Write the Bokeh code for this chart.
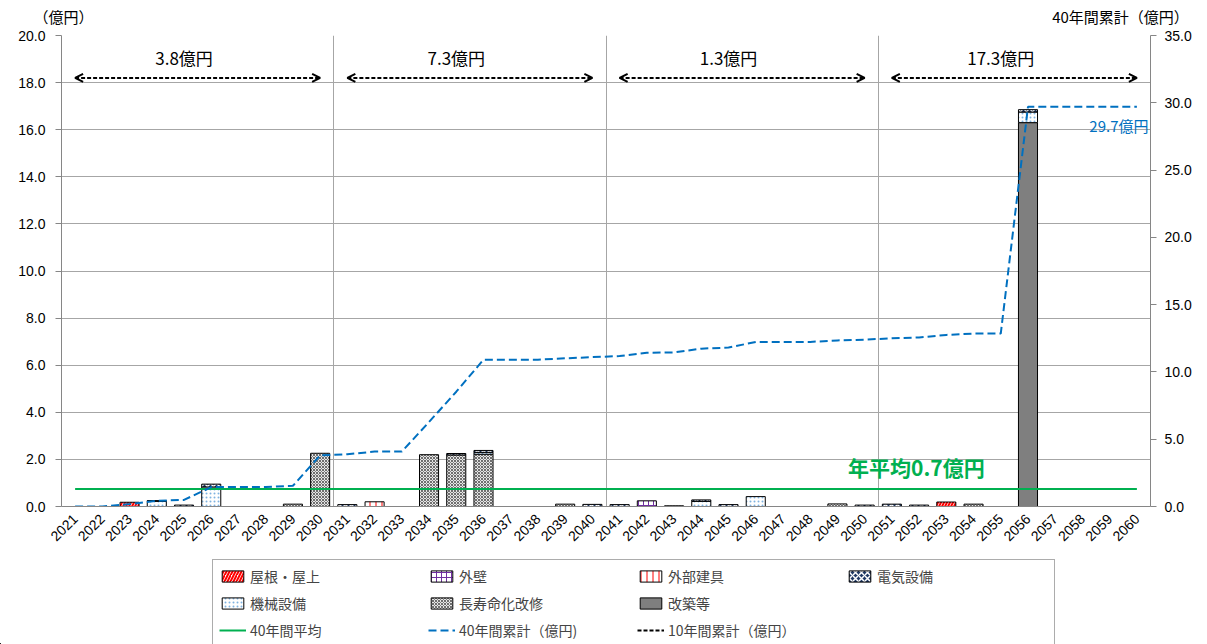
import numpy as np
from bokeh.plotting import figure
from bokeh.layouts import column
from bokeh.models import (Range1d, LinearAxis, FixedTicker, NumeralTickFormatter,
                          Arrow, OpenHead, Label, Legend, LegendItem, ColumnDataSource)
from bokeh.embed import file_html
from bokeh.resources import INLINE

# ---- data (億円 per year) ----
years = list(range(2021, 2061))

roof = [0, 0, 0.18, 0, 0, 0, 0, 0, 0, 0,
        0, 0, 0, 0, 0, 0, 0, 0, 0, 0,
        0, 0, 0, 0, 0, 0, 0, 0, 0, 0,
        0, 0, 0.19, 0, 0, 0, 0, 0, 0, 0]
wall = [0, 0, 0, 0, 0, 0, 0, 0, 0, 0,
        0, 0, 0, 0, 0, 0, 0, 0, 0, 0,
        0, 0.24, 0, 0, 0, 0, 0, 0, 0, 0,
        0, 0, 0, 0, 0, 0, 0, 0, 0, 0]
fixtures = [0, 0, 0, 0, 0, 0, 0, 0, 0, 0,
            0, 0.20, 0, 0, 0, 0, 0, 0, 0, 0,
            0, 0, 0, 0, 0, 0, 0, 0, 0, 0,
            0, 0, 0, 0, 0, 0, 0, 0, 0, 0]
electric = [0, 0, 0, 0.03, 0.06, 0.12, 0, 0, 0, 0,
            0.08, 0, 0, 0, 0.06, 0.08, 0, 0, 0, 0.09,
            0.08, 0, 0, 0.06, 0.08, 0, 0, 0, 0, 0.06,
            0.10, 0.06, 0, 0, 0, 0.10, 0, 0, 0, 0]
machine = [0, 0, 0, 0.22, 0, 0.83, 0, 0, 0, 0,
           0, 0, 0, 0, 0, 0.08, 0, 0, 0, 0,
           0, 0, 0, 0.22, 0, 0.42, 0, 0, 0, 0,
           0, 0, 0, 0, 0, 0.45, 0, 0, 0, 0]
longlife = [0, 0, 0, 0, 0, 0, 0, 0, 0.10, 2.26,
            0, 0, 0, 2.20, 2.19, 2.22, 0, 0, 0.10, 0,
            0, 0, 0.03, 0, 0, 0, 0, 0, 0.11, 0,
            0, 0, 0, 0.10, 0, 0, 0, 0, 0, 0]
rebuild = [0, 0, 0, 0, 0, 0, 0, 0, 0, 0,
           0, 0, 0, 0, 0, 0, 0, 0, 0, 0,
           0, 0, 0, 0, 0, 0, 0, 0, 0, 0,
           0, 0, 0, 0, 0, 16.30, 0, 0, 0, 0]

JP = "Noto Sans CJK JP"
NUM = "Liberation Sans"
W = 1207
HEAD_H = 27
LEG_H = 86
MAIN_H = 644 - HEAD_H - LEG_H
FRAME_TOP = 35      # page y of the plot frame's top edge
FRAME_H = 471

x = np.arange(1, len(years) + 1)
total = np.sum([roof, wall, fixtures, electric, machine, longlife, rebuild], axis=0)
cumulative = np.cumsum(total)
average = total.sum() / len(years)

# drawing styles
BAR_STYLE = {
    "改築等": dict(fill_color="#7F7F7F"),
    "長寿命化改修": dict(fill_color="#E6E6E6", hatch_pattern="x", hatch_color="#6E6E6E",
                      hatch_scale=3, hatch_weight=1),
    "機械設備": dict(fill_color="white", hatch_pattern=".", hatch_color="#7FB2E0",
                   hatch_scale=4, hatch_weight=1),
    "電気設備": dict(fill_color="#1F3864", hatch_pattern="x", hatch_color="white",
                   hatch_scale=6, hatch_weight=1.5),
    "外部建具": dict(fill_color="white", hatch_pattern="|", hatch_color="#FF0000",
                   hatch_scale=6, hatch_weight=1),
    "外壁": dict(fill_color="white", hatch_pattern="+", hatch_color="#7030A0",
               hatch_scale=5, hatch_weight=1),
    "屋根・屋上": dict(fill_color="white", hatch_pattern="/", hatch_color="#FF0000",
                    hatch_scale=6, hatch_weight=2),
}
AVG_STYLE = dict(line_color="#00B050", line_width=2)
CUM_STYLE = dict(line_color="#0070C0", line_width=2, line_dash="8 4")
DEC_STYLE = dict(line_color="black", line_width=2, line_dash="4 2")


def bare_figure(h):
    f = figure(width=W, height=h, output_backend="svg", toolbar_location=None,
               x_range=Range1d(0, W), y_range=Range1d(0, h),
               x_axis_type=None, y_axis_type=None, min_border=0)
    f.outline_line_color = None
    f.grid.visible = False
    f.frame_align = False
    return f


# ---- header strip with the two axis unit captions ----
head = bare_figure(HEAD_H)
head.add_layout(Label(x=63, y=HEAD_H - 16, text="（億円）", text_align="center",
                      text_baseline="middle", text_font=JP, text_font_size="15px",
                      text_color="black"))
head.add_layout(Label(x=1120, y=HEAD_H - 15.5, text="40年間累計（億円）", text_align="center",
                      text_baseline="middle", text_font=JP, text_font_size="15px",
                      text_color="black"))

# ---- main chart ----
top_border = FRAME_TOP - HEAD_H
p = figure(width=W, height=MAIN_H, output_backend="svg", toolbar_location=None,
           x_range=Range1d(0.5, len(years) + 0.5), y_range=Range1d(0, 20),
           min_border_left=61, min_border_right=57, min_border_top=top_border,
           min_border_bottom=MAIN_H - top_border - FRAME_H)
p.extra_y_ranges = {"cum": Range1d(0, 35)}
p.outline_line_color = None
p.frame_align = False

GRID = "#A6A6A6"
AXIS = "#868686"

# left axis
p.yaxis.ticker = FixedTicker(ticks=list(range(0, 21, 2)))
p.yaxis.formatter = NumeralTickFormatter(format="0.0")
p.yaxis.major_label_text_font = NUM
p.yaxis.major_label_text_font_size = "14px"
p.yaxis.major_label_text_color = "black"
p.yaxis.axis_line_color = AXIS
p.yaxis.major_tick_line_color = AXIS
p.yaxis.major_tick_out = 6
p.yaxis.major_tick_in = 0
p.yaxis.minor_tick_line_color = None
p.yaxis.major_label_standoff = 10
p.ygrid.ticker = FixedTicker(ticks=list(range(0, 21, 2)))
p.ygrid.grid_line_color = GRID

# right axis
right = LinearAxis(y_range_name="cum", ticker=FixedTicker(ticks=list(range(0, 36, 5))),
                   formatter=NumeralTickFormatter(format="0.0"))
right.major_label_text_font = NUM
right.major_label_text_font_size = "14px"
right.major_label_text_color = "black"
right.axis_line_color = AXIS
right.major_tick_line_color = AXIS
right.major_tick_out = 6
right.major_tick_in = 0
right.minor_tick_line_color = None
right.major_label_standoff = 8
p.add_layout(right, "right")

# bottom axis: one tick per year
p.xaxis.ticker = FixedTicker(ticks=list(x))
p.xaxis.major_label_overrides = {int(i): str(y) for i, y in zip(x, years)}
p.xaxis.major_label_orientation = np.pi / 4
p.xaxis.major_label_text_font = NUM
p.xaxis.major_label_text_font_size = "14px"
p.xaxis.major_label_text_color = "black"
p.xaxis.axis_line_color = AXIS
p.xaxis.major_tick_line_color = None
p.xaxis.minor_tick_line_color = None
p.xaxis.major_label_standoff = 4
# vertical separators between decades
p.xgrid.ticker = FixedTicker(ticks=[d + 0.5 for d in range(10, len(years), 10)])
p.xgrid.grid_line_color = GRID

# ---- stacked bars (bottom to top) ----
stack = [("改築等", rebuild), ("長寿命化改修", longlife), ("機械設備", machine),
         ("電気設備", electric), ("外部建具", fixtures), ("外壁", wall), ("屋根・屋上", roof)]

base = np.zeros(len(years))
for name, vals in stack:
    v = np.array(vals, dtype=float)
    m = v > 0
    src = ColumnDataSource(dict(x=x[m], bottom=base[m], top=(base + v)[m]))
    p.vbar(x="x", bottom="bottom", top="top", width=0.7, source=src,
           line_color="black", line_width=1, **BAR_STYLE[name])
    base = base + v

# 40-year average line
p.line(x=[x[0], x[-1]], y=[average, average], **AVG_STYLE)

# cumulative line on the right axis
p.line(x=x, y=cumulative, y_range_name="cum", **CUM_STYLE)

# 10-year totals with double arrows
dec_start = x[::10]
dec_end = x[9::10]
arrow_y = 18.2
p.segment(x0=dec_start, y0=[arrow_y] * len(dec_start), x1=dec_end,
          y1=[arrow_y] * len(dec_end), **DEC_STYLE)
for s, e in zip(dec_start, dec_end):
    p.add_layout(Arrow(x_start=s, y_start=arrow_y, x_end=e, y_end=arrow_y, line_alpha=0,
                       start=OpenHead(size=8, line_width=2, line_color="black"),
                       end=OpenHead(size=8, line_width=2, line_color="black")))
for d, (s, e) in enumerate(zip(dec_start, dec_end)):
    dsum = total[d * 10:(d + 1) * 10].sum()
    p.add_layout(Label(x=(s + e) / 2 - 0.5, y=19.05, text=f"{dsum:.1f}億円",
                       text_align="center", text_baseline="middle",
                       text_font=JP, text_font_size="17px", text_color="black"))

# annotations
p.add_layout(Label(x=31.9, y=1.66, text=f"年平均{average:.1f}億円", text_align="center",
                   text_baseline="middle", text_font=JP, text_font_size="21px",
                   text_font_style="bold", text_color="#00B050"))
p.add_layout(Label(x=len(years) + 0.5, x_offset=-2, y=28.3, y_range_name="cum",
                   text=f"{cumulative[-1]:.1f}億円", text_align="right",
                   text_baseline="middle", text_font=JP, text_font_size="15px",
                   text_color="#0070C0"))

# ---- legend strip: key glyphs share the styles, placed off the visible range ----
leg = bare_figure(LEG_H)
off = -1000
key = {}
for name in BAR_STYLE:
    key[name] = leg.vbar(x=[off], top=[1], width=1, line_color="black", line_width=1,
                         **BAR_STYLE[name])
key["40年間平均"] = leg.line(x=[off, off + 1], y=[1, 1], **AVG_STYLE)
key["40年間累計（億円)"] = leg.line(x=[off, off + 1], y=[1, 1], **CUM_STYLE)
key["10年間累計（億円）"] = leg.segment(x0=[off], y0=[1], x1=[off + 1], y1=[1], **DEC_STYLE)

# column-major order, 3 rows x 4 columns
order = ["屋根・屋上", "機械設備", "40年間平均",
         "外壁", "長寿命化改修", "40年間累計（億円)",
         "外部建具", "改築等", "10年間累計（億円）",
         "電気設備"]
legend = Legend(items=[LegendItem(label=n, renderers=[key[n]]) for n in order],
                orientation="vertical", nrows=3, location=(212, -3),
                glyph_width=27, glyph_height=14, label_width=171, label_height=20,
                label_standoff=4, spacing=7, padding=6, margin=0,
                label_text_font=JP, label_text_font_size="14px",
                border_line_color="#595959", border_line_width=1,
                background_fill_color="white", background_fill_alpha=1)
leg.add_layout(legend, "center")

layout = column(head, p, leg, spacing=0)
open("out.html", "w").write(file_html(layout, INLINE))
